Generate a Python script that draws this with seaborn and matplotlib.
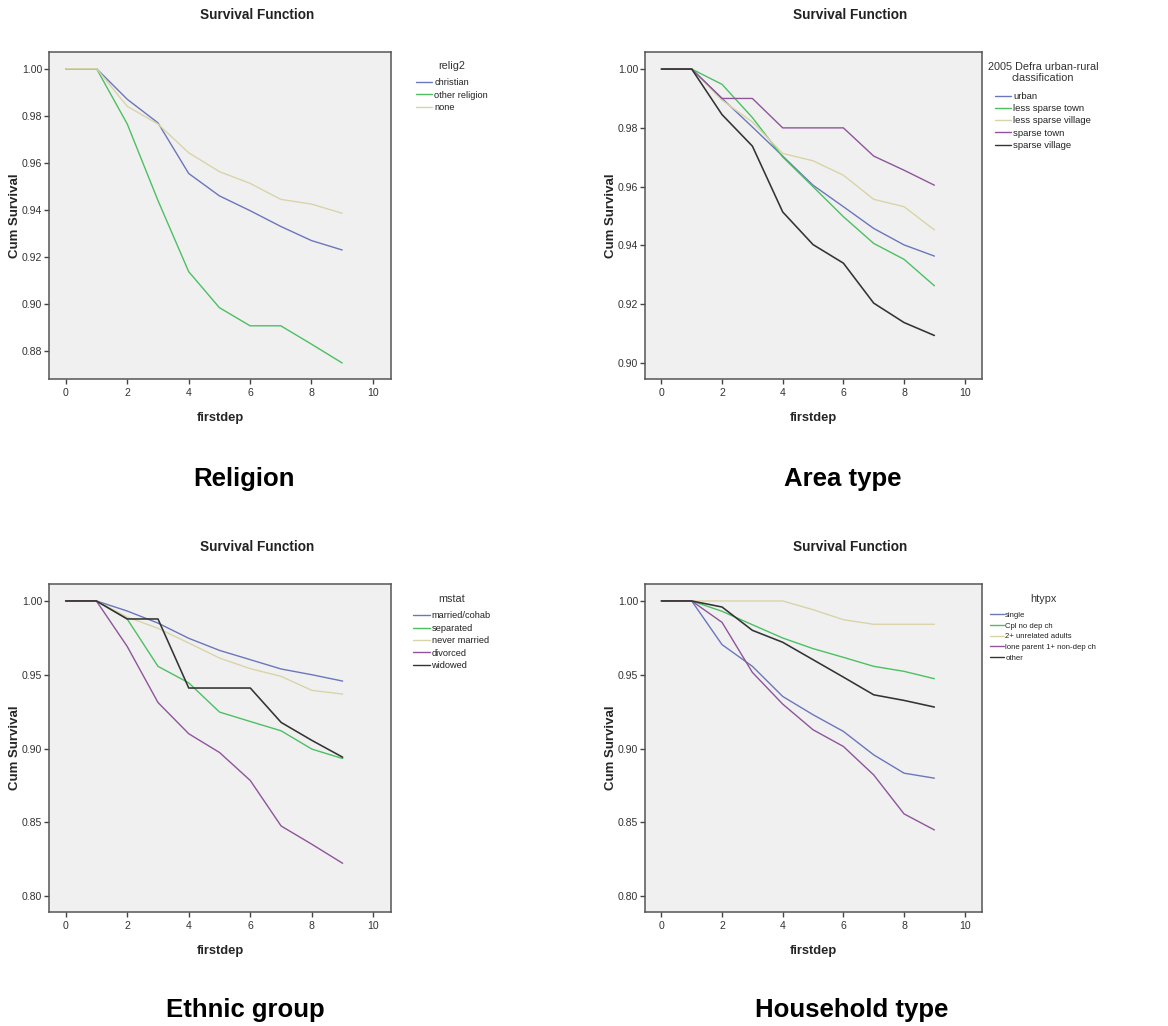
import matplotlib
matplotlib.use("Agg")
import matplotlib.pyplot as plt
import seaborn as sns
import pandas as pd
import numpy as np

# time axis shared by all four survival curves
firstdep = [0, 1, 2, 3, 4, 5, 6, 7, 8, 9]

# Religion (relig2)
relig_groups = ["christian", "other religion", "none"]
relig_christian = [1.0, 1.0, 0.987, 0.977, 0.9555, 0.946, 0.9397, 0.933, 0.927, 0.923]
relig_other = [1.0, 1.0, 0.9765, 0.944, 0.9138, 0.8985, 0.8908, 0.8908, 0.883, 0.875]
relig_none = [1.0, 1.0, 0.984, 0.9765, 0.9643, 0.9563, 0.9513, 0.9445, 0.9425, 0.9386]

# Area type (2005 Defra urban-rural classification)
area_groups = ["urban", "less sparse town", "less sparse village", "sparse town", "sparse village"]
area_urban = [1.0, 1.0, 0.990, 0.9803, 0.9704, 0.9605, 0.9532, 0.9458, 0.9402, 0.9364]
area_ls_town = [1.0, 1.0, 0.9948, 0.9835, 0.9701, 0.960, 0.9498, 0.9407, 0.9353, 0.9263]
area_ls_village = [1.0, 1.0, 0.9894, 0.982, 0.9713, 0.9688, 0.9639, 0.9557, 0.9532, 0.9453]
area_s_town = [1.0, 1.0, 0.990, 0.990, 0.980, 0.980, 0.980, 0.9704, 0.9656, 0.9605]
area_s_village = [1.0, 1.0, 0.9845, 0.9738, 0.9514, 0.9403, 0.934, 0.9204, 0.9138, 0.9094]

# Ethnic group panel (mstat)
mstat_groups = ["married/cohab", "separated", "never married", "divorced", "widowed"]
mstat_married = [1.0, 1.0, 0.9932, 0.985, 0.9747, 0.9665, 0.9602, 0.9539, 0.950, 0.9457]
mstat_separated = [1.0, 1.0, 0.9878, 0.9557, 0.9445, 0.9247, 0.9183, 0.912, 0.8996, 0.8932]
mstat_never = [1.0, 1.0, 0.9891, 0.9815, 0.9715, 0.9613, 0.9541, 0.9489, 0.9394, 0.9369]
mstat_divorced = [1.0, 1.0, 0.9692, 0.9312, 0.910, 0.8973, 0.8783, 0.8475, 0.8351, 0.8222]
mstat_widowed = [1.0, 1.0, 0.9878, 0.9878, 0.941, 0.941, 0.941, 0.9177, 0.9055, 0.8941]

# Household type (htypx)
htyp_groups = ["single", "Cpl no dep ch", "2+ unrelated adults", "lone parent 1+ non-dep ch", "other"]
htyp_single = [1.0, 1.0, 0.9704, 0.9557, 0.9353, 0.9229, 0.9116, 0.8957, 0.8833, 0.8799]
htyp_cpl = [1.0, 1.0, 0.993, 0.9839, 0.9749, 0.9677, 0.9618, 0.9557, 0.9523, 0.9473]
htyp_unrel = [1.0, 1.0, 1.0, 1.0, 1.0, 0.9941, 0.9873, 0.9842, 0.9842, 0.9842]
htyp_lone = [1.0, 1.0, 0.9855, 0.9516, 0.9301, 0.9127, 0.9014, 0.8821, 0.8557, 0.8448]
htyp_other = [1.0, 1.0, 0.9959, 0.9801, 0.972, 0.9602, 0.9484, 0.9364, 0.9326, 0.9281]

panel_names = ["Religion", "Area type", "Ethnic group", "Household type"]

# SPSS-like line colours
c_blue, c_green, c_tan, c_purple, c_black = "#6b76bb", "#4cc061", "#d9d4a8", "#8e559a", "#333333"
colors5 = [c_blue, c_green, c_tan, c_purple, c_black]


def long_df(groups, series):
    rows = []
    for g, vals in zip(groups, series):
        for x, v in zip(firstdep, vals):
            rows.append({"firstdep": x, "surv": v, "group": g})
    return pd.DataFrame(rows)


sns.set_style("white", {"axes.facecolor": "#f0f0f0"})
plt.rcParams["font.family"] = ["Liberation Sans", "DejaVu Sans"]

W, H = 1168, 1026
fig = plt.figure(figsize=(W / 100, H / 100), dpi=100)


def px_axes(left, top, right, bottom):
    return fig.add_axes([left / W, 1 - bottom / H, (right - left) / W, (bottom - top) / H])


# leg = (centre x, title centre y, top of first legend row)
panels = [
    dict(box=(49, 52, 391, 379), groups=relig_groups,
         series=[relig_christian, relig_other, relig_none],
         title="relig2", xlim=(-0.55, 10.59), ylim=(0.8682, 1.0071),
         yticks=np.arange(0.88, 1.001, 0.02), leg=(452, 66, 78), fs=6.7, tfs=7.8, ls=0.38,
         head=(257, 15), name=(244, 486)),
    dict(box=(645, 52, 982, 379), groups=area_groups,
         series=[area_urban, area_ls_town, area_ls_village, area_s_town, area_s_village],
         title="2005 Defra urban-rural\nclassification", xlim=(-0.54, 10.57), ylim=(0.8946, 1.0058),
         yticks=np.arange(0.90, 1.001, 0.02), leg=(1043, 72.5, 92), fs=6.8, tfs=7.8, ls=0.34,
         head=(850, 15), name=(843, 486)),
    dict(box=(49, 584, 391, 912), groups=mstat_groups,
         series=[mstat_married, mstat_separated, mstat_never, mstat_divorced, mstat_widowed],
         title="mstat", xlim=(-0.54, 10.57), ylim=(0.7892, 1.0115),
         yticks=np.arange(0.80, 1.001, 0.05), leg=(452, 598.5, 611.5), fs=6.7, tfs=7.8, ls=0.36,
         head=(257, 547), name=(245, 1017)),
    dict(box=(645, 584, 982, 912), groups=htyp_groups,
         series=[htyp_single, htyp_cpl, htyp_unrel, htyp_lone, htyp_other],
         title="htypx", xlim=(-0.54, 10.57), ylim=(0.7892, 1.0115),
         yticks=np.arange(0.80, 1.001, 0.05), leg=(1043, 599, 611.5), fs=5.6, tfs=7.8, ls=0.42,
         head=(850, 547), name=(852, 1017)),
]

for p, name in zip(panels, panel_names):
    ax = px_axes(*p["box"])
    df = long_df(p["groups"], p["series"])
    pal = dict(zip(p["groups"], colors5))
    sns.lineplot(data=df, x="firstdep", y="surv", hue="group", hue_order=p["groups"],
                 palette=pal, linewidth=1.0, ax=ax)
    for ln in ax.get_lines():
        if ln.get_color() == c_black:
            ln.set_linewidth(1.15)

    ax.set_xlim(*p["xlim"])
    ax.set_ylim(*p["ylim"])
    ax.set_xticks([0, 2, 4, 6, 8, 10])
    ax.set_yticks(p["yticks"])
    ax.set_yticklabels(["{:.2f}".format(v) for v in p["yticks"]])
    ax.tick_params(direction="out", length=3.5, width=1.0, color="#444444",
                   labelsize=7.6, labelcolor="#333333", pad=1.5, left=True, bottom=True)
    ax.tick_params(axis="x", pad=3)
    for sp in ax.spines.values():
        sp.set_color("#555555")
        sp.set_linewidth(1.1)
    ax.set_xlabel("firstdep", fontsize=9.3, fontweight="bold", labelpad=10)
    ax.set_ylabel("Cum Survival", fontsize=9.5, fontweight="bold", labelpad=0.5)

    # legend without title; the title is set as its own text so the gap matches
    cx, ty, top = p["leg"]
    sns.move_legend(ax, "upper center", bbox_to_anchor=(cx / W, 1 - top / H),
                    bbox_transform=fig.transFigure, frameon=False, title=None,
                    fontsize=p["fs"], handlelength=1.75,
                    handletextpad=0.2, labelspacing=p["ls"], borderpad=0, borderaxespad=0)
    for t in ax.get_legend().get_texts():
        t.set_color("#222222")
    fig.text(cx / W, 1 - ty / H, p["title"], ha="center", va="center",
             fontsize=p["tfs"], color="#333333", multialignment="center", linespacing=1.1)

    fig.text(p["head"][0] / W, 1 - p["head"][1] / H, "Survival Function",
             ha="center", va="center", fontsize=9.8, fontweight="bold", color="#222222")
    fig.text(p["name"][0] / W, 1 - p["name"][1] / H, name,
             ha="center", va="baseline", fontsize=18.5, fontweight="bold", color="black")

fig.savefig("out.png", dpi=100, facecolor="white")
